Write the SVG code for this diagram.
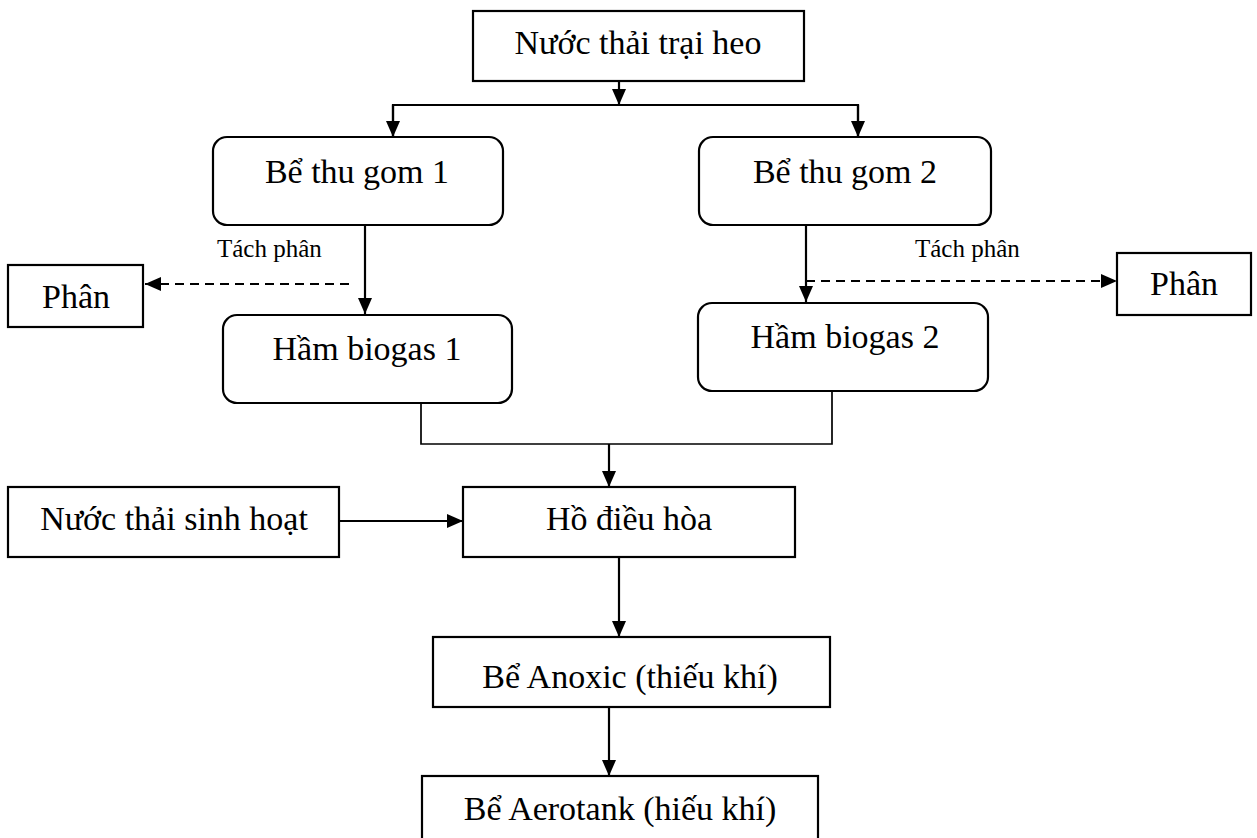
<svg xmlns="http://www.w3.org/2000/svg" width="1257" height="838" viewBox="0 0 1257 838">
<style>
.box{fill:#fff;stroke:#000;stroke-width:2.2}
.t{font-family:"Liberation Serif","Times New Roman",serif;font-size:34px;fill:#000;text-anchor:middle}
.s{font-family:"Liberation Serif","Times New Roman",serif;font-size:25px;fill:#000}
.c{fill:none;stroke:#000;stroke-width:2.2}
.d{fill:none;stroke:#000;stroke-width:2.2;stroke-dasharray:9 6}
</style>
<defs>
<marker id="ah" viewBox="0 0 16 14" refX="16" refY="7" markerWidth="16" markerHeight="14" markerUnits="userSpaceOnUse" orient="auto">
<path d="M0,0 L16,7 L0,14 Z" fill="#000"/>
</marker>
</defs>
<rect width="1257" height="838" fill="#fff"/>
<g id="connectors">
<line class="c" x1="619" y1="81" x2="619" y2="105" marker-end="url(#ah)"/>
<polyline class="c" points="393,137 393,105 858,105 858,137"/>
<line class="c" x1="393" y1="105" x2="393" y2="137" marker-end="url(#ah)"/>
<line class="c" x1="858" y1="105" x2="858" y2="137" marker-end="url(#ah)"/>
<line class="c" x1="365" y1="225" x2="365" y2="314" marker-end="url(#ah)"/>
<line class="d" x1="349" y1="284" x2="145" y2="284" marker-end="url(#ah)"/>
<line class="c" x1="806" y1="225" x2="806" y2="302" marker-end="url(#ah)"/>
<line class="d" x1="806" y1="281" x2="1117" y2="281" marker-end="url(#ah)"/>
<polyline class="c" style="stroke-width:1.7" points="421,403 421,444 832,444 832,391"/>
<line class="c" x1="609" y1="444" x2="609" y2="487" marker-end="url(#ah)"/>
<line class="c" x1="339" y1="521" x2="463" y2="521" marker-end="url(#ah)"/>
<line class="c" x1="619" y1="557" x2="619" y2="637" marker-end="url(#ah)"/>
<line class="c" x1="609" y1="707" x2="609" y2="776" marker-end="url(#ah)"/>
</g>
<g id="n-top"><rect class="box" x="473" y="11" width="331" height="70"/><text class="t" x="638" y="54">Nước thải trại heo</text></g>
<g id="n-thugom1"><rect class="box" x="213" y="137" width="290" height="88" rx="14"/><text class="t" x="357" y="183">Bể thu gom 1</text></g>
<g id="n-thugom2"><rect class="box" x="699" y="137" width="292" height="88" rx="14"/><text class="t" x="845" y="183">Bể thu gom 2</text></g>
<g id="n-label1"><text class="s" x="217" y="257">Tách phân</text></g>
<g id="n-label2"><text class="s" x="915" y="257">Tách phân</text></g>
<g id="n-phan1"><rect class="box" x="8" y="265" width="135" height="62"/><text class="t" x="76" y="308">Phân</text></g>
<g id="n-phan2"><rect class="box" x="1117" y="253" width="134" height="62"/><text class="t" x="1184" y="295">Phân</text></g>
<g id="n-biogas1"><rect class="box" x="223" y="315" width="289" height="88" rx="14"/><text class="t" x="367" y="360">Hầm biogas 1</text></g>
<g id="n-biogas2"><rect class="box" x="698" y="303" width="290" height="88" rx="14"/><text class="t" x="845" y="348">Hầm biogas 2</text></g>
<g id="n-sinhhoat"><rect class="box" x="8" y="487" width="331" height="70"/><text class="t" x="174" y="530">Nước thải sinh hoạt</text></g>
<g id="n-dieuhoa"><rect class="box" x="463" y="487" width="332" height="70"/><text class="t" x="629" y="530">Hồ điều hòa</text></g>
<g id="n-anoxic"><rect class="box" x="433" y="637" width="397" height="70"/><text class="t" x="630" y="688">Bể Anoxic (thiếu khí)</text></g>
<g id="n-aerotank"><rect class="box" x="422" y="776" width="396" height="76"/><text class="t" x="620" y="820">Bể Aerotank (hiếu khí)</text></g>
</svg>
